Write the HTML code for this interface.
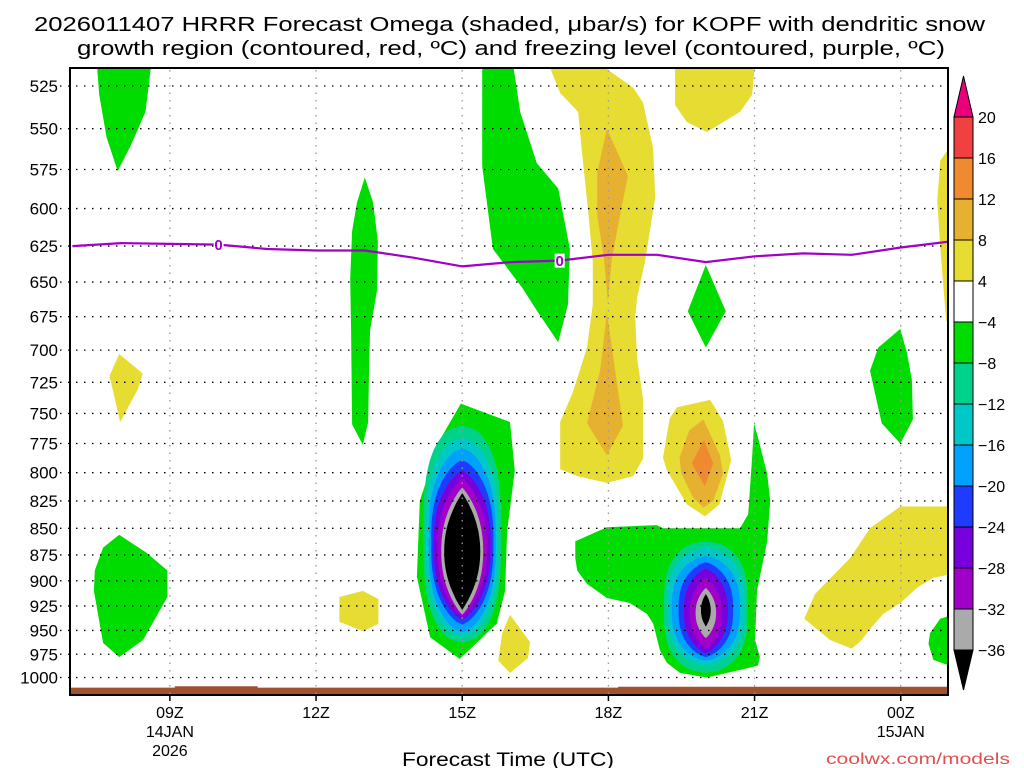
<!DOCTYPE html>
<html><head><meta charset="utf-8"><style>
html,body{margin:0;padding:0;background:#fff;}
svg{display:block;font-family:"Liberation Sans",sans-serif;}
</style></head><body>
<svg id="chart" width="1024" height="768" viewBox="0 0 1024 768" xmlns="http://www.w3.org/2000/svg">
<text x="34" y="31" font-size="20" textLength="951" lengthAdjust="spacingAndGlyphs">2026011407 HRRR Forecast Omega (shaded, μbar/s) for KOPF with dendritic snow</text>
<text x="77" y="55" font-size="20" textLength="868" lengthAdjust="spacingAndGlyphs">growth region (contoured, red, ºC) and freezing level (contoured, purple, ºC)</text>
<defs><clipPath id="plotclip"><rect x="70" y="68" width="878" height="627"/></clipPath></defs>
<g id="fills" clip-path="url(#plotclip)"></g>
<g id="grid"></g>
<g id="lines" clip-path="url(#plotclip)"></g>
<rect x="70" y="68" width="878" height="627" fill="none" stroke="#000" stroke-width="2"/>
<g id="axes"></g>
<g id="cbar"></g>
<text x="508" y="766" font-size="19" text-anchor="middle" textLength="212" lengthAdjust="spacingAndGlyphs">Forecast Time (UTC)</text>
<text x="1010" y="764" font-size="16" fill="#e05050" text-anchor="end" textLength="184" lengthAdjust="spacingAndGlyphs">coolwx.com/models</text>
</svg>
<script>
// ---- data ----
const pressureTicks=[525,550,575,600,625,650,675,700,725,750,775,800,825,850,875,900,925,950,975,1000];
const hourTicks=[9,12,15,18,21,24];
const hourTickLabels=["09Z","12Z","15Z","18Z","21Z","00Z"];
const hourTickSub={9:["14JAN","2026"],24:["15JAN"]};
const cbarLevels=[20,16,12,8,4,-4,-8,-12,-16,-20,-24,-28,-32,-36];
const cbarColors=["#f04040","#f08a30","#e6b030","#e6dc32","#ffffff","#00dc00","#00d28c","#00c8c8","#00a0ff","#1e3cff","#7800dc","#a000c8","#aaaaaa"];
// freezing level
const frzHours=[7,8,9,10,11,12,13,14,15,16,17,18,19,20,21,22,23,24,25];
const frzPres=[625,623,623.5,624,627,628,628,633,639,636,635,631,631,636,632,630,631,626,622];
// surface pressure (ground)
const sfcHours=[6.9,9.1,9.1,10.8,10.8,18.2,18.2,25.2];
const sfcPres=[1011,1011,1009.5,1009.5,1011,1011,1010,1010];
// contour polygons [hour, mb]
const yellowColumn=[[16.76,512],[17.79,512],[18.51,526],[18.71,534.5],[18.92,562],[18.96,593],[18.75,636],[18.59,661],[18.55,676],[18.59,706],[18.71,738],[18.71,788],[18.51,803],[17.97,809],[17.36,803],[17.01,797],[17.01,757],[17.27,733],[17.56,698],[17.68,666],[17.68,636],[17.58,600],[17.46,565],[17.38,540],[17.01,529]];
const orangeUpper=[[17.97,550],[18.40,579],[18.24,604],[18.07,634],[17.99,664],[17.91,634],[17.77,604],[17.77,577]];
const orangeLower=[[17.97,672],[18.14,716],[18.30,760],[17.97,785],[17.56,758],[17.83,716]];
const yellowTopRight=[[19.37,512],[21.01,512],[20.95,530],[20.70,540],[20.02,552],[19.61,546],[19.37,536]];
const yellowRightEdge=[[25.2,553],[24.81,569.5],[24.75,595],[24.81,625],[24.93,678],[25.2,678]];
const yellowLeftSmall=[[7.96,703],[8.44,718],[8.35,730],[7.98,757],[7.76,720]];
const yellow13z=[[12.48,916],[12.96,910],[13.28,918],[13.28,943],[12.97,951],[12.48,941]];
const yellow16z=[[15.98,934],[16.39,962],[16.35,979],[15.98,995],[15.74,982],[15.82,953]];
const yellow20zOuter=[[19.41,745],[20.09,739],[20.35,756],[20.52,789],[20.28,828],[19.98,839],[19.61,828],[19.20,798],[19.12,787],[19.26,754]];
const yellow20zMid=[[19.95,755],[20.29,785],[20.35,801],[20.15,825],[19.95,831],[19.74,822],[19.50,801],[19.46,787],[19.66,764]];
const yellow20zInner=[[19.96,772],[20.15,792],[19.98,812],[19.71,792]];
const yellowBand=[[23.99,830],[25.2,830],[25.2,892],[24.67,897],[24.33,907],[23.99,922],[23.64,933],[23.40,947],[23.16,962],[22.99,969],[22.55,960],[22.02,938],[22.24,913],[22.96,878],[23.37,850]];
const greenTopLeft=[[7.50,512],[8.62,512],[8.50,540],[8.20,560],[7.93,576],[7.70,555],[7.55,530]];
const greenStrip13z=[[13.00,580],[13.17,596],[13.27,622],[13.25,656],[13.11,685],[13.09,708],[13.07,757],[12.96,776],[12.74,759],[12.72,685],[12.70,648],[12.74,615],[12.84,596]];
const greenTopMid=[[15.41,512],[16.04,512],[16.19,540],[16.53,571],[16.97,587],[17.21,627],[17.17,666],[16.97,694],[16.56,672],[16.23,654],[15.63,627],[15.41,573]];
const greenDiamond20z=[[20.00,638],[20.41,671],[20.00,698],[19.63,671]];
const greenLeftBottom=[[7.96,856],[8.52,873],[8.95,890],[8.95,916],[8.45,960],[7.96,978],[7.63,963],[7.44,910],[7.46,890],[7.63,868]];
const greenCore15z=[[14.97,742],[15.98,757],[16.08,798],[15.92,853],[15.88,910],[15.71,943],[14.95,980],[14.34,957],[14.07,896],[14.13,825],[14.54,772]];
const greenLowRight=[[17.32,862],[17.97,849],[18.99,847],[19.12,850],[20.70,850],[20.87,837],[20.95,787],[20.99,758],[21.07,770],[21.26,801],[21.32,825],[21.26,862],[21.05,910],[21.01,960],[21.11,978],[21.07,987],[20.85,990],[20.02,1000],[19.47,995],[19.20,984],[19.06,971],[18.92,943],[18.79,933],[18.44,922],[17.97,917],[17.56,903],[17.36,890],[17.32,878]];
const greenRight24z=[[23.99,684],[24.12,701],[24.23,723],[24.25,755],[23.99,775],[23.61,758],[23.37,716],[23.54,698]];
const greenCorner=[[25.2,932],[24.81,938],[24.60,953],[24.57,964],[24.67,981],[25.2,991]];
// nested cores (teal .. black)
const coreColors=["#00d28c","#00c8c8","#00a0ff","#1e3cff","#7800dc","#a000c8","#aaaaaa","#000000"];
const core15Center=15.0;
const core15Top=[760,770,779,789,798,805,813,818];
const core15Bot=[963,957,952,944,939,936,934,929];
const core15HalfW=[0.80,0.74,0.69,0.64,0.585,0.51,0.43,0.37];
const core20Center=20.0;
const core20Top=[862,868,876,882,888,897,907,913];
const core20Bot=[995,987,982,978,974,969,958,946];
const core20HalfW=[0.86,0.79,0.70,0.56,0.45,0.33,0.21,0.10];

// ---- scales ----
const X0=70,X1=948,H0=6.95,H1=24.97;
function xOf(h){return X0+(h-H0)*(X1-X0)/(H1-H0);}
function yOf(p){return 86+918*Math.log(p/525);}
const NS="http://www.w3.org/2000/svg";
function mk(tag,attrs,parent){const e=document.createElementNS(NS,tag);for(const k in attrs)e.setAttribute(k,attrs[k]);parent.appendChild(e);return e;}
const fills=document.getElementById('fills'),grid=document.getElementById('grid'),lines=document.getElementById('lines'),axes=document.getElementById('axes'),cbar=document.getElementById('cbar');

function poly(pts,color,name){
  const d=pts.map(q=>xOf(q[0]).toFixed(1)+','+yOf(q[1]).toFixed(1)).join(' ');
  const e=mk('polygon',{points:d,fill:color},fills);
  
  
}
function core(cx,tops,bots,hws,prefix){
  for(let i=0;i<tops.length;i++){
    const yt=yOf(tops[i]),yb=yOf(bots[i]),yc=(yt+yb)/2,ry=(yb-yt)/2;
    const rx=xOf(cx+hws[i])-xOf(cx);const a=3-i*0.13,b=0.5+i*0.07;
    const pts=[];
    for(let k=0;k<=60;k++){const u=-1+k/30;const w=rx*Math.pow(Math.max(0,1-Math.pow(Math.abs(u),a)),b);pts.push([xOf(cx)+w,yc+u*ry]);}
    for(let k=60;k>=0;k--){const u=-1+k/30;const w=rx*Math.pow(Math.max(0,1-Math.pow(Math.abs(u),a)),b);pts.push([xOf(cx)-w,yc+u*ry]);}
    const e=mk('polygon',{points:pts.map(q=>q[0].toFixed(1)+','+q[1].toFixed(1)).join(' '),fill:coreColors[i]},fills);
    
    
  }
}
const Y='#e6dc32',O1='#e6b030',O2='#f08a30',G='#00dc00';
poly(yellowColumn,Y,'omega-pos-column-18z');
poly(orangeUpper,O1,'omega-pos-core-upper');
poly(orangeLower,O1,'omega-pos-core-lower');
poly(yellowTopRight,Y,'omega-pos-top-right');
poly(yellowRightEdge,Y,'omega-pos-right-edge');
poly(yellowLeftSmall,Y,'omega-pos-left-small');
poly(yellow13z,Y,'omega-pos-13z');
poly(yellow16z,Y,'omega-pos-16z');
poly(yellow20zOuter,Y,'omega-pos-20z-outer');
poly(yellow20zMid,O1,'omega-pos-20z-mid');
poly(yellow20zInner,O2,'omega-pos-20z-inner');
poly(yellowBand,Y,'omega-pos-band-23z');
poly(greenTopLeft,G,'omega-neg-top-left');
poly(greenStrip13z,G,'omega-neg-strip-13z');
poly(greenTopMid,G,'omega-neg-top-mid');
poly(greenDiamond20z,G,'omega-neg-diamond-20z');
poly(greenLeftBottom,G,'omega-neg-left-bottom');
poly(greenCore15z,G,'omega-neg-core-15z');
poly(greenLowRight,G,'omega-neg-low-right');
poly(greenRight24z,G,'omega-neg-right-24z');
poly(greenCorner,G,'omega-neg-corner');
core(core15Center,core15Top,core15Bot,core15HalfW,'omega-core-15z');
core(core20Center,core20Top,core20Bot,core20HalfW,'omega-core-20z');
// ground
{const pts=sfcHours.map((h,i)=>[xOf(h),yOf(sfcPres[i])]);pts.push([xOf(25.2),700],[xOf(6.9),700]);
 const e=mk('polygon',{points:pts.map(q=>q[0].toFixed(1)+','+q[1].toFixed(1)).join(' '),fill:'#a0522d'},fills);
 
 }

// grid + axes
pressureTicks.forEach(p=>{
  const y=yOf(p);
  const l=mk('line',{x1:60,x2:948,y1:y,y2:y,stroke:'#000','stroke-width':1.3,'stroke-dasharray':'1.5,6.5'},grid);
  
  
  const t=mk('text',{x:58,y:y+6,'font-size':17,'text-anchor':'end'},axes);t.textContent=p;
  
  
});
hourTicks.forEach((h,i)=>{
  const x=xOf(h);
  const l=mk('line',{x1:x,x2:x,y1:70,y2:695,stroke:'#999','stroke-width':1.3,'stroke-dasharray':'1.5,6'},grid);
  
  
  const tk=mk('line',{x1:x,x2:x,y1:695,y2:701,stroke:'#000','stroke-width':1.5},axes);
  
  
  const t=mk('text',{x:x,y:718,'font-size':16,'text-anchor':'middle'},axes);t.textContent=hourTickLabels[i];
  
  
  (hourTickSub[h]||[]).forEach((s,j)=>{const u=mk('text',{x:x,y:737+j*19,'font-size':16,'text-anchor':'middle'},axes);u.textContent=s;
    
    });
});
// freezing level
{const d=frzHours.map((h,i)=>(i?'L':'M')+xOf(h).toFixed(1)+','+yOf(frzPres[i]).toFixed(1)).join(' ');
 const e=mk('path',{d:d,fill:'none',stroke:'#a000c8','stroke-width':2.2},lines);
 
 
 [[10,624],[17,635]].forEach(q=>{const x=xOf(q[0]),y=yOf(q[1]);
   mk('rect',{x:x-5,y:y-7,width:10,height:14,fill:'#fff'},lines);
   const t=mk('text',{x:x,y:y+5.5,'font-size':15,'font-weight':'bold',fill:'#a000c8','text-anchor':'middle'},lines);t.textContent='0';
   
   });}
// colorbar
{const bx=954,bw=19,top=117,step=(650-117)/13;
 for(let i=0;i<13;i++){const r=mk('rect',{x:bx,y:top+i*step,width:bw,height:step,fill:cbarColors[i],stroke:'#000','stroke-width':1},cbar);
   
   }
 const up=mk('polygon',{points:`${bx},${top} ${bx+bw},${top} ${bx+bw/2},76`,fill:'#e8007a',stroke:'#000','stroke-width':1},cbar);
 
 
 const dn=mk('polygon',{points:`${bx},650 ${bx+bw},650 ${bx+bw/2},690`,fill:'#000',stroke:'#000','stroke-width':1},cbar);
 
 
 cbarLevels.forEach((v,i)=>{const t=mk('text',{x:978,y:top+i*step+6,'font-size':16},cbar);t.textContent=v<0?'\u2212'+(-v):String(v);
   
   });}
</script>
</body></html>
